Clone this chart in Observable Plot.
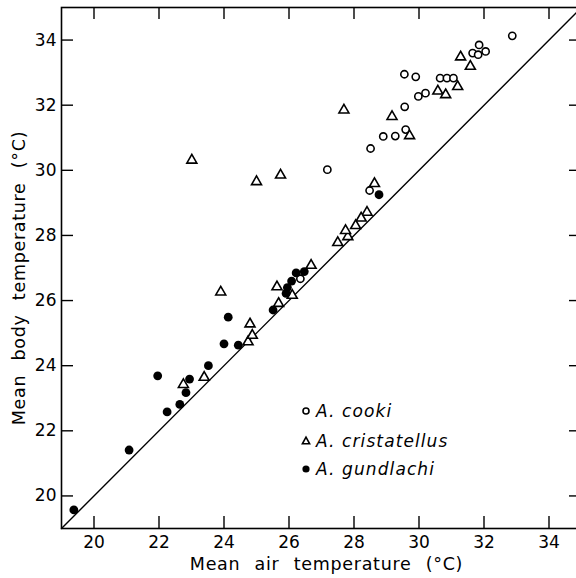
<!DOCTYPE html>
<html>
<head>
<meta charset="utf-8">
<script src="https://cdn.jsdelivr.net/npm/d3@7"></script>
<script src="https://cdn.jsdelivr.net/npm/@observablehq/plot@0.6"></script>
<style>
  body { margin: 0; background: #fff; }
  #chart { position: relative; width: 576px; height: 578px; overflow: hidden; }
  #chart svg.main text.title { word-spacing: 8px; letter-spacing: 0.7px; }
  .lg { position: absolute; left: 299px; height: 22px; line-height: 22px; display: flex; align-items: center;
        font-family: "DejaVu Sans", sans-serif; font-size: 17px; font-style: italic; letter-spacing: 1.1px; color: #000; }
  .lg svg { width: 14px; height: 14px; margin-right: 3px; }
</style>
</head>
<body>
<div id="chart"></div>
<script>
// ---- Data (air temperature, body temperature) ----
const cookiAir  = [32.87, 31.85, 31.65, 31.82, 32.05, 29.55, 29.90, 30.65, 30.86, 31.06, 29.98, 30.20, 29.56, 29.59, 28.90, 29.27, 28.51, 27.18, 28.48, 26.35];
const cookiBody = [34.13, 33.85, 33.60, 33.55, 33.65, 32.95, 32.87, 32.83, 32.83, 32.83, 32.27, 32.37, 31.95, 31.25, 31.04, 31.05, 30.67, 30.02, 29.38, 26.67];

const cristAir  = [31.28, 31.58, 30.58, 30.82, 31.19, 27.69, 29.17, 29.71, 25.74, 25.00, 23.01, 28.63, 28.40, 28.22, 28.05, 27.81, 27.74, 27.50, 26.68, 25.63, 26.10, 25.68, 23.90, 22.75, 23.39, 24.74, 24.87, 24.80];
const cristBody = [33.48, 33.19, 32.43, 32.32, 32.57, 31.85, 31.65, 31.06, 29.85, 29.65, 30.31, 29.59, 28.71, 28.53, 28.30, 27.96, 28.15, 27.78, 27.08, 26.42, 26.16, 25.91, 26.26, 23.42, 23.64, 24.73, 24.93, 25.28];

const gundAir   = [19.38, 21.08, 21.96, 22.25, 22.64, 22.83, 22.94, 23.52, 24.00, 24.13, 24.44, 25.51, 25.91, 25.95, 26.08, 26.22, 26.47, 28.77];
const gundBody  = [19.57, 21.41, 23.69, 22.58, 22.81, 23.17, 23.59, 24.00, 24.67, 25.49, 24.63, 25.71, 26.22, 26.40, 26.60, 26.85, 26.89, 29.25];

const xTicks = [20, 22, 24, 26, 28, 30, 32, 34];
const yTicks = [20, 22, 24, 26, 28, 30, 32, 34];
const domain = [19, 35];
const identityLine = [19, 35];

const xTitle = "Mean air temperature (°C)";
const yTitle = "Mean body temperature (°C)";
const speciesNames = ["A. cooki", "A. cristatellus", "A. gundlachi"];

// ---- Build tables ----
const zipPts = (a, b) => a.map((v, i) => ({air: v, body: b[i]}));
const cooki = zipPts(cookiAir, cookiBody);
const crist = zipPts(cristAir, cristBody);
const gund = zipPts(gundAir, gundBody);

const W = 576, H = 578, mL = 61, mR = -5, mT = 7, mB = 50;
const plotW = W - mL - mR, plotH = H - mT - mB;
const tickLen = 12;
const font = "'DejaVu Sans', sans-serif";

const chart = Plot.plot({
  width: W, height: H,
  marginLeft: mL, marginRight: mR, marginTop: mT, marginBottom: mB,
  className: "main",
  x: {domain},
  y: {domain},
  style: {fontFamily: font, fontSize: "17px", color: "#000", background: "#fff", overflow: "hidden"},
  marks: [
    Plot.line(identityLine, {x: d => d, y: d => d, stroke: "#000", strokeWidth: 1.4}),
    Plot.tickX(xTicks, {x: d => d, insetTop: plotH - tickLen, stroke: "#000", strokeWidth: 1.4}),
    Plot.tickX(xTicks, {x: d => d, insetBottom: plotH - tickLen, stroke: "#000", strokeWidth: 1.4}),
    Plot.tickY(yTicks, {y: d => d, insetRight: plotW - tickLen, stroke: "#000", strokeWidth: 1.4}),
    Plot.tickY(yTicks, {y: d => d, insetLeft: plotW - tickLen, stroke: "#000", strokeWidth: 1.4}),
    Plot.axisX({ticks: xTicks, tickSize: 0, tickPadding: 7, label: null, fontSize: 17}),
    Plot.axisY({ticks: yTicks, tickSize: 0, tickPadding: 5, label: null, fontSize: 17}),
    Plot.dot(cooki, {x: "air", y: "body", r: 3.6, stroke: "#000", strokeWidth: 1.6, fill: "#fff"}),
    Plot.dot(crist, {x: "air", y: "body", symbol: "triangle", r: 3.7, stroke: "#000", strokeWidth: 1.6, fill: "#fff"}),
    Plot.dot(gund, {x: "air", y: "body", r: 4.4, fill: "#000", stroke: "none"}),
    Plot.frame({stroke: "#000", strokeWidth: 1.6}),
    Plot.text([xTitle], {text: d => d, frameAnchor: "bottom", textAnchor: "middle", dx: 5, dy: 41, fontSize: 17.5, fill: "#000"}),
    Plot.text([yTitle], {text: d => d, frameAnchor: "left", textAnchor: "middle", rotate: -90, dx: -42, dy: 10, fontSize: 17.5, fill: "#000"})
  ]
});
chart.querySelectorAll('g[aria-label="text"] text').forEach(t => t.classList.add("title"));
document.getElementById("chart").appendChild(chart);

// ---- Legend ----
const legendRows = [
  {name: speciesNames[0], cy: 411, shape: '<circle cx="7" cy="7" r="3" fill="#fff" stroke="#000" stroke-width="1.6"/>'},
  {name: speciesNames[1], cy: 441, shape: '<path d="M7,3.2L10.6,9.8L3.4,9.8Z" fill="#fff" stroke="#000" stroke-width="1.6"/>'},
  {name: speciesNames[2], cy: 469, shape: '<circle cx="7" cy="7" r="3.6" fill="#000"/>'}
];
const host = document.getElementById("chart");
legendRows.forEach(r => {
  const div = document.createElement("div");
  div.className = "lg";
  div.style.top = (r.cy - 11) + "px";
  div.innerHTML = `<svg viewBox="0 0 14 14">${r.shape}</svg><span>${r.name}</span>`;
  host.appendChild(div);
});
</script>
</body>
</html>
